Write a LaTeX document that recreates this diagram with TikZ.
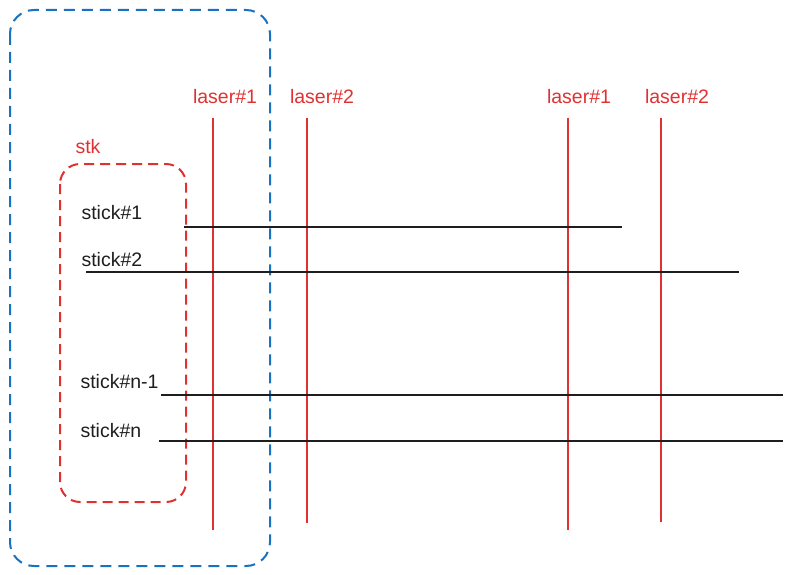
\documentclass[tikz,border=0pt]{standalone}
\usepackage{fontspec}
\setmainfont{Liberation Sans}
\definecolor{rojo}{RGB}{224,49,49}
\definecolor{azul}{RGB}{25,113,194}
\definecolor{negro}{RGB}{30,30,30}
\begin{document}
\begin{tikzpicture}[
x=1pt, y=-1pt,
every node/.style={font=\fontsize{19.5}{22}\selectfont},
grupo/.style={draw=azul, line width=2pt, dash pattern=on 11pt off 7pt, rounded corners=24pt},
pila/.style={draw=rojo, line width=2pt, dash pattern=on 10pt off 6pt, rounded corners=20pt},
laser/.style={draw=rojo, line width=1.5pt},
etqlaser/.style={text=rojo},
palo/.style={draw=negro, line width=1.5pt},
etqpalo/.style={text=negro, anchor=west}
]
\useasboundingbox (0,0) rectangle (792,575);
% Grupos
\draw[grupo] (10,10) rectangle (270,566);
\draw[pila] (60,164) rectangle (186,502);
\node[text=rojo, anchor=west] (stk) at (72,147) {stk};
% Laseres
\node[etqlaser] (l1) at (225,97) {laser\#1};
\node[etqlaser] (l2) at (322,97) {laser\#2};
\node[etqlaser] (l3) at (579,97) {laser\#1};
\node[etqlaser] (l4) at (677,97) {laser\#2};
\coordinate (l1a) at (213,118); \coordinate (l1b) at (213,530);
\coordinate (l2a) at (307,118); \coordinate (l2b) at (307,523);
\coordinate (l3a) at (568,118); \coordinate (l3b) at (568,530);
\coordinate (l4a) at (661,118); \coordinate (l4b) at (661,522);
\draw[laser] (l1a) -- (l1b);
\draw[laser] (l2a) -- (l2b);
\draw[laser] (l3a) -- (l3b);
\draw[laser] (l4a) -- (l4b);
% Palos
\node[etqpalo] (s1) at (78,213) {stick\#1};
\node[etqpalo] (s2) at (78,260) {stick\#2};
\node[etqpalo] (s3) at (77,382) {stick\#n-1};
\node[etqpalo] (s4) at (77,431) {stick\#n};
\coordinate (s1a) at (184,227); \coordinate (s1b) at (622,227);
\coordinate (s2a) at (86,272); \coordinate (s2b) at (739,272);
\coordinate (s3a) at (161,395); \coordinate (s3b) at (783,395);
\coordinate (s4a) at (159,441); \coordinate (s4b) at (783,441);
\draw[palo] (s1a) -- (s1b);
\draw[palo] (s2a) -- (s2b);
\draw[palo] (s3a) -- (s3b);
\draw[palo] (s4a) -- (s4b);
\end{tikzpicture}
\end{document}
